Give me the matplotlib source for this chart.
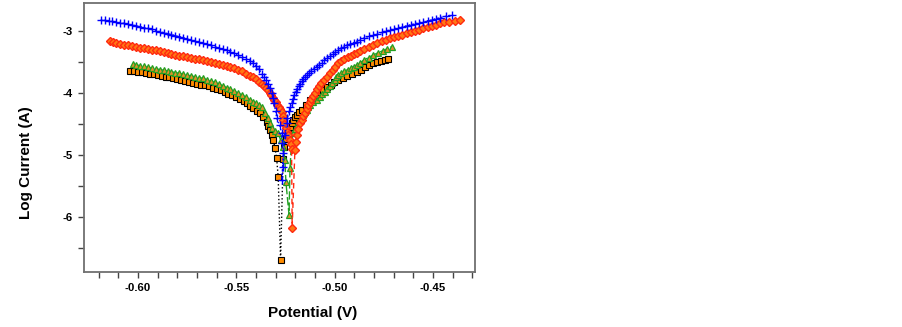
import matplotlib
matplotlib.use("Agg")
from matplotlib import pyplot as plt
from matplotlib.ticker import MultipleLocator

plt.rcParams['font.family'] = ['Liberation Sans', 'DejaVu Sans']

# blank (blue +)
blue_v = [-0.619, -0.617, -0.615, -0.613, -0.611, -0.609, -0.607, -0.605, -0.603, -0.601,
          -0.599, -0.597, -0.595, -0.593, -0.591, -0.589, -0.587, -0.585, -0.583, -0.581,
          -0.579, -0.577, -0.575, -0.573, -0.571, -0.569, -0.567, -0.565, -0.563, -0.561,
          -0.559, -0.557, -0.555, -0.553, -0.551, -0.549, -0.547, -0.545, -0.543, -0.5415,
          -0.540, -0.5385, -0.537, -0.536, -0.535, -0.534, -0.533, -0.532, -0.5315, -0.531,
          -0.530, -0.5295, -0.528, -0.527, -0.5266, -0.5261, -0.5265, -0.5268,
          -0.5253, -0.5244, -0.5240, -0.5231, -0.5225, -0.5219, -0.5212, -0.5205, -0.5197, -0.519,
          -0.5183, -0.5176, -0.5168, -0.516, -0.5151, -0.5142, -0.5131, -0.512, -0.5106, -0.5092,
          -0.5078, -0.5065, -0.5053, -0.5041, -0.5025, -0.501, -0.4996, -0.4982, -0.4966, -0.495,
          -0.4935, -0.492, -0.4904, -0.4888, -0.4869, -0.485, -0.4827, -0.4804, -0.4782, -0.476,
          -0.474, -0.4719, -0.470, -0.468, -0.4657, -0.4634, -0.4612, -0.459, -0.457, -0.4549,
          -0.4527, -0.4505, -0.4485, -0.4464, -0.4435, -0.4405]
blue_i = [-2.822, -2.830, -2.838, -2.848, -2.858, -2.869, -2.880, -2.892, -2.905, -2.918,
          -2.932, -2.946, -2.960, -2.977, -2.995, -3.012, -3.030, -3.045, -3.060, -3.076,
          -3.092, -3.108, -3.125, -3.142, -3.160, -3.178, -3.196, -3.214, -3.232, -3.253,
          -3.275, -3.292, -3.310, -3.334, -3.360, -3.389, -3.420, -3.454, -3.490, -3.525,
          -3.560, -3.620, -3.690, -3.745, -3.800, -3.860, -3.920, -4.006, -4.085, -4.168,
          -4.290, -4.400, -4.520, -4.650, -4.810, -4.970, -5.200, -5.400,
          -4.680, -4.490, -4.400, -4.300, -4.230, -4.168, -4.100, -4.030, -3.980, -3.930,
          -3.890, -3.850, -3.810, -3.770, -3.740, -3.710, -3.680, -3.650, -3.613, -3.577,
          -3.543, -3.510, -3.476, -3.442, -3.405, -3.370, -3.339, -3.308, -3.281, -3.255,
          -3.232, -3.210, -3.192, -3.174, -3.145, -3.115, -3.090, -3.066, -3.045, -3.025,
          -3.005, -2.985, -2.968, -2.950, -2.933, -2.916, -2.900, -2.885, -2.868, -2.852,
          -2.836, -2.820, -2.803, -2.787, -2.765, -2.744]

# red diamonds
red_v = [-0.6143, -0.6125, -0.611, -0.609, -0.607, -0.605, -0.603, -0.601, -0.599, -0.597,
         -0.595, -0.593, -0.591, -0.589, -0.587, -0.585, -0.583, -0.581, -0.579, -0.577,
         -0.575, -0.573, -0.571, -0.569, -0.567, -0.565, -0.563, -0.561, -0.559, -0.557,
         -0.555, -0.553, -0.551, -0.549, -0.547, -0.545, -0.543, -0.5415, -0.540, -0.5385,
         -0.537, -0.536, -0.535, -0.534, -0.533, -0.5322, -0.5315, -0.5307, -0.530, -0.5292,
         -0.5285, -0.5277, -0.527, -0.5265, -0.5261, -0.5255, -0.5248, -0.5241, -0.5235, -0.5227,
         -0.5222, -0.5219, -0.5216,
         -0.5202, -0.5197, -0.5193, -0.5185, -0.5176, -0.5168, -0.516, -0.5151, -0.5142, -0.5133,
         -0.5125, -0.5118, -0.511, -0.5101, -0.5092, -0.5081, -0.507, -0.5055, -0.5041, -0.5025,
         -0.501, -0.4996, -0.4982, -0.4966, -0.495, -0.4934, -0.4918, -0.4903, -0.4888, -0.4869,
         -0.485, -0.4827, -0.4804, -0.4782, -0.476, -0.474, -0.4719, -0.470, -0.468, -0.4657,
         -0.4634, -0.4612, -0.459, -0.457, -0.4549, -0.4527, -0.4505, -0.4485, -0.4464, -0.4442,
         -0.442, -0.439, -0.4362]
red_i = [-3.163, -3.176, -3.190, -3.205, -3.220, -3.232, -3.245, -3.258, -3.270, -3.282,
         -3.293, -3.304, -3.316, -3.330, -3.345, -3.358, -3.372, -3.385, -3.397, -3.410,
         -3.423, -3.435, -3.447, -3.460, -3.473, -3.484, -3.495, -3.512, -3.530, -3.545,
         -3.560, -3.582, -3.605, -3.630, -3.655, -3.688, -3.720, -3.750, -3.780, -3.818,
         -3.855, -3.888, -3.920, -3.960, -4.000, -4.040, -4.080, -4.115, -4.150, -4.190,
         -4.230, -4.265, -4.303, -4.370, -4.437, -4.505, -4.571, -4.625, -4.680, -4.760,
         -4.830, -4.900, -6.174,
         -4.915, -4.800, -4.679, -4.580, -4.490, -4.435, -4.380, -4.320, -4.260, -4.200,
         -4.140, -4.095, -4.050, -3.995, -3.940, -3.890, -3.840, -3.790, -3.739, -3.685,
         -3.630, -3.576, -3.523, -3.487, -3.455, -3.425, -3.400, -3.380, -3.361, -3.325,
         -3.290, -3.258, -3.227, -3.198, -3.170, -3.145, -3.119, -3.100, -3.080, -3.060,
         -3.039, -3.018, -2.997, -2.978, -2.958, -2.938, -2.918, -2.898, -2.878, -2.864,
         -2.850, -2.837, -2.824]

# green triangles
green_v = [-0.6024, -0.601, -0.599, -0.597, -0.595, -0.593, -0.591, -0.589, -0.587, -0.585,
           -0.583, -0.581, -0.579, -0.577, -0.575, -0.573, -0.571, -0.569, -0.567, -0.565,
           -0.563, -0.561, -0.559, -0.557, -0.555, -0.553, -0.551, -0.549, -0.547, -0.545,
           -0.543, -0.5415, -0.540, -0.5385, -0.537, -0.5355, -0.5338, -0.533, -0.532, -0.5305,
           -0.5287, -0.5275, -0.5261, -0.5253, -0.5248, -0.5232,
           -0.5227, -0.5219, -0.521, -0.5201, -0.5193, -0.5185, -0.5176, -0.5168, -0.516, -0.5151,
           -0.5142, -0.5133, -0.5125, -0.511, -0.5092, -0.5075, -0.5062, -0.505, -0.5037, -0.5025,
           -0.5012, -0.500, -0.4991, -0.4982, -0.4966, -0.495, -0.4934, -0.4918, -0.4903, -0.4888,
           -0.4869, -0.485, -0.4827, -0.4804, -0.478, -0.4755, -0.4732, -0.471]
green_i = [-3.539, -3.548, -3.560, -3.574, -3.588, -3.600, -3.612, -3.623, -3.635, -3.648,
           -3.660, -3.672, -3.685, -3.699, -3.713, -3.727, -3.740, -3.752, -3.765, -3.787,
           -3.810, -3.832, -3.855, -3.885, -3.915, -3.945, -3.975, -4.005, -4.035, -4.072,
           -4.110, -4.140, -4.170, -4.200, -4.235, -4.320, -4.410, -4.490, -4.571, -4.610,
           -4.650, -4.760, -4.867, -5.082, -5.430, -5.970,
           -5.217, -4.786, -4.650, -4.580, -4.518, -4.477, -4.437, -4.396, -4.356, -4.315,
           -4.275, -4.235, -4.195, -4.150, -4.110, -4.060, -4.020, -3.980, -3.935, -3.890,
           -3.840, -3.790, -3.750, -3.711, -3.680, -3.650, -3.625, -3.600, -3.575, -3.550,
           -3.510, -3.470, -3.430, -3.389, -3.355, -3.320, -3.288, -3.255]

# black squares
black_v = [-0.6041, -0.602, -0.600, -0.598, -0.596, -0.594, -0.592, -0.590, -0.588, -0.586,
           -0.584, -0.582, -0.580, -0.578, -0.576, -0.574, -0.572, -0.570, -0.568, -0.566,
           -0.564, -0.562, -0.560, -0.558, -0.556, -0.554, -0.552, -0.550, -0.548, -0.546,
           -0.5445, -0.543, -0.5414, -0.5397, -0.538, -0.5363, -0.5346, -0.5337, -0.5329, -0.532,
           -0.5312, -0.5303, -0.5295, -0.5287, -0.5275,
           -0.5262, -0.5255, -0.5248, -0.5244, -0.5235, -0.5227, -0.5218, -0.521, -0.520, -0.519,
           -0.5179, -0.5168, -0.5147, -0.5125, -0.5107, -0.509, -0.5074, -0.5058, -0.5039, -0.502,
           -0.5001, -0.4982, -0.4958, -0.4935, -0.4911, -0.4888, -0.4866, -0.4845, -0.4824, -0.4804,
           -0.4785, -0.4765, -0.4746, -0.4727]
black_i = [-3.642, -3.651, -3.660, -3.671, -3.682, -3.692, -3.703, -3.714, -3.725, -3.737,
           -3.750, -3.762, -3.775, -3.790, -3.805, -3.820, -3.835, -3.850, -3.865, -3.880,
           -3.895, -3.915, -3.935, -3.960, -3.985, -4.012, -4.040, -4.070, -4.100, -4.135,
           -4.170, -4.210, -4.248, -4.290, -4.329, -4.390, -4.465, -4.530, -4.598, -4.679,
           -4.760, -4.894, -5.055, -5.361, -6.695,
           -5.070, -4.880, -4.740, -4.650, -4.595, -4.545, -4.490, -4.437, -4.396, -4.356,
           -4.315, -4.275, -4.195, -4.114, -4.072, -4.030, -3.990, -3.953, -3.912, -3.870,
           -3.830, -3.792, -3.755, -3.720, -3.689, -3.658, -3.623, -3.590, -3.556, -3.523,
           -3.504, -3.485, -3.469, -3.453]

fig = plt.figure(figsize=(9.02, 3.27), dpi=100)
ax = fig.add_axes([0.0931, 0.1682, 0.4335, 0.8226])

ax.plot(black_v, black_i, color='black', linestyle=':', linewidth=1.0,
        marker='s', markersize=4, markerfacecolor='#ff8c00', markeredgecolor='black',
        markeredgewidth=0.8)
ax.plot(green_v, green_i, color='#22a022', linestyle=(0, (6, 2)), linewidth=1.0,
        marker='^', markersize=5, markerfacecolor='#e0902a', markeredgecolor='#22a022',
        markeredgewidth=0.9)
ax.plot(red_v, red_i, color='#ff2a10', linestyle=(0, (4, 3)), linewidth=1.0,
        marker='D', markersize=4, markerfacecolor='#ff7814', markeredgecolor='#ff2a10',
        markeredgewidth=1.0)
ax.plot(blue_v, blue_i, color='#0000ff', linestyle=':', linewidth=1.0,
        marker='+', markersize=5.5, markeredgewidth=1.0)

ax.set_xlim(-0.6275, -0.4286)
ax.set_ylim(-6.89, -2.55)

ax.xaxis.set_major_locator(MultipleLocator(0.05))
ax.xaxis.set_minor_locator(MultipleLocator(0.01))
ax.yaxis.set_major_locator(MultipleLocator(1))
ax.yaxis.set_minor_locator(MultipleLocator(0.5))
ax.xaxis.set_major_formatter(plt.FuncFormatter(lambda v, p: "%.2f" % v))
ax.yaxis.set_major_formatter(plt.FuncFormatter(lambda v, p: "%d" % round(v)))

ax.tick_params(which='both', direction='out', length=4, width=1, color='#444444',
               labelsize=8.2, pad=4)
for lab in ax.get_xticklabels() + ax.get_yticklabels():
    lab.set_fontweight('bold')

for sp in ax.spines.values():
    sp.set_color('#707070')
    sp.set_linewidth(1.3)

ax.set_xlabel("Potential (V)", fontsize=11, fontweight='bold')
ax.set_ylabel("Log Current (A)", fontsize=11, fontweight='bold')
ax.xaxis.set_label_coords(0.586, -0.125)
ax.yaxis.set_label_coords(-0.13, 0.405)

fig.savefig("out.png", dpi=100)
